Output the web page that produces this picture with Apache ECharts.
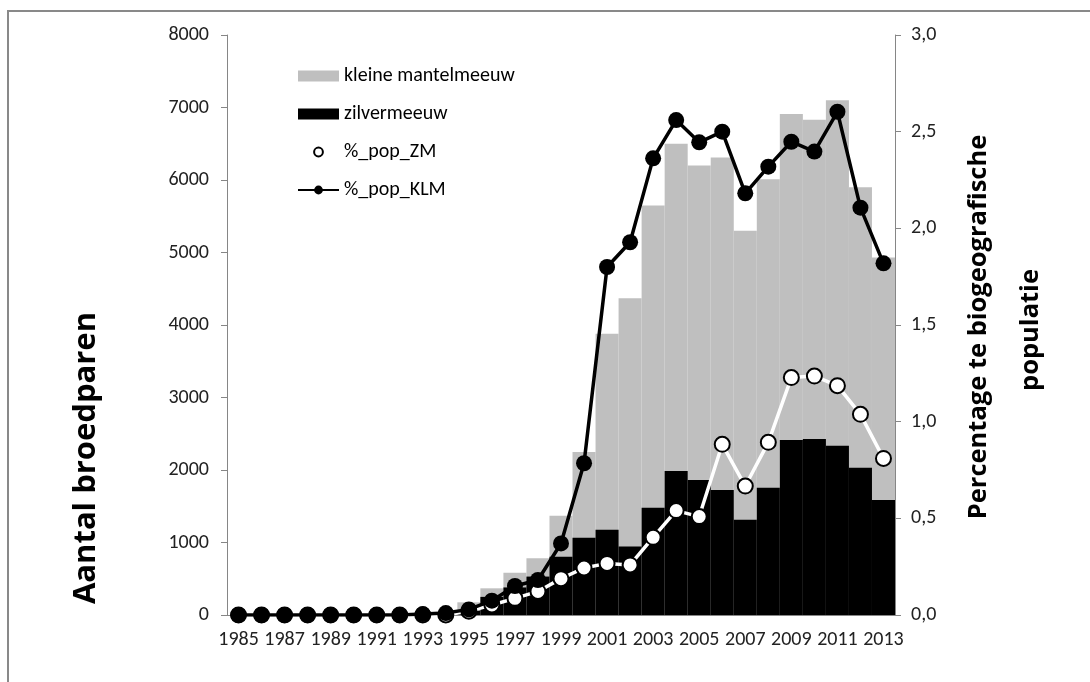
<!DOCTYPE html>
<html lang="nl">

<head>
    <meta charset="UTF-8">
    <title>Broedparen meeuwen</title>
    <style>
        html, body { margin: 0; padding: 0; background: #fff; }
        #chart { width: 1090px; height: 682px; }
    </style>
</head>

<body>
    <div id="chart"></div>
</body>
<script type="text/javascript" src="https://cdn.jsdelivr.net/npm/echarts@6/dist/echarts.min.js"></script>
<script type="text/javascript">
    // jaren
    var years = ['1985', '1986', '1987', '1988', '1989', '1990', '1991', '1992', '1993', '1994',
        '1995', '1996', '1997', '1998', '1999', '2000', '2001', '2002', '2003', '2004',
        '2005', '2006', '2007', '2008', '2009', '2010', '2011', '2012', '2013'];
    // aantal broedparen kleine mantelmeeuw (grijs)
    var kleineMantelmeeuw = [0, 0, 0, 0, 0, 0, 0, 0, 0, 20,
        175, 368, 584, 782, 1370, 2250, 3880, 4370, 5650, 6500,
        6200, 6310, 5300, 6010, 6910, 6830, 7100, 5900, 4930];
    // aantal broedparen zilvermeeuw (zwart)
    var zilvermeeuw = [0, 0, 0, 0, 0, 0, 0, 0, 0, 10,
        60, 250, 380, 530, 805, 1067, 1177, 945, 1480, 1986,
        1862, 1724, 1315, 1756, 2414, 2428, 2336, 2032, 1586];
    // % van biogeografische populatie
    var popZM = [0, 0, 0, 0, 0, 0, 0, 0, 0, 0,
        0.02, 0.052, 0.086, 0.122, 0.188, 0.243, 0.267, 0.259, 0.402, 0.54,
        0.509, 0.883, 0.667, 0.893, 1.228, 1.236, 1.186, 1.038, 0.81];
    var popKLM = [0, 0, 0, 0, 0, 0, 0, 0, 0.005, 0.01,
        0.029, 0.074, 0.15, 0.181, 0.37, 0.785, 1.8, 1.928, 2.362, 2.56,
        2.445, 2.5, 2.181, 2.319, 2.448, 2.397, 2.603, 2.107, 1.819];

    var font = 'Carlito, Lato, sans-serif';
    var titleFont = '"Open Sans", sans-serif';
    var axisGrey = '#868686';

    var option = {
        animation: false,
        textStyle: { fontFamily: font },
        grid: { left: 227, right: 195, top: 35, bottom: 67 },
        graphic: [
            {
                type: 'rect',
                shape: { x: 8, y: 11, width: 1100, height: 700 },
                style: { fill: 'none', stroke: '#898989', lineWidth: 2 },
                silent: true
            },
            {
                type: 'text', x: 86, y: 458, rotation: Math.PI / 2,
                style: {
                    text: 'Aantal broedparen', fontFamily: titleFont, fontWeight: 'bold', fontSize: 31,
                    fill: '#000', textAlign: 'center', textVerticalAlign: 'middle'
                }
            },
            {
                type: 'text', x: 979, y: 327, rotation: Math.PI / 2,
                style: {
                    text: 'Percentage te biogeografische', fontFamily: titleFont, fontWeight: 'bold', fontSize: 25.5,
                    fill: '#000', textAlign: 'center', textVerticalAlign: 'middle'
                }
            },
            {
                type: 'text', x: 1031, y: 330, rotation: Math.PI / 2,
                style: {
                    text: 'populatie', fontFamily: titleFont, fontWeight: 'bold', fontSize: 25.5,
                    fill: '#000', textAlign: 'center', textVerticalAlign: 'middle'
                }
            }
        ],
        legend: {
            orient: 'vertical',
            left: 292,
            top: 61,
            itemWidth: 41,
            itemHeight: 11,
            itemGap: 18,
            textStyle: { fontSize: 20, color: '#000', fontFamily: font },
            data: [
                { name: 'kleine mantelmeeuw', icon: 'rect' },
                { name: 'zilvermeeuw', icon: 'rect' },
                { name: '%_pop_ZM' },
                { name: '%_pop_KLM' }
            ]
        },
        xAxis: {
            type: 'category',
            data: years,
            axisLine: { lineStyle: { color: axisGrey } },
            axisTick: { interval: 0, length: 6, lineStyle: { color: axisGrey } },
            axisLabel: { interval: 1, fontSize: 20, color: '#222', margin: 15 }
        },
        yAxis: [
            {
                type: 'value', min: 0, max: 8000, interval: 1000,
                splitLine: { show: false },
                axisLine: { show: true, lineStyle: { color: axisGrey } },
                axisTick: { show: true, length: 6, lineStyle: { color: axisGrey } },
                axisLabel: {
                    fontSize: 20, color: '#222', margin: 18,
                    formatter: function (v) { return String(v); }
                }
            },
            {
                type: 'value', min: 0, max: 3, interval: 0.5,
                splitLine: { show: false },
                axisLine: { show: true, lineStyle: { color: axisGrey } },
                axisTick: { show: true, length: 6, lineStyle: { color: axisGrey } },
                axisLabel: {
                    fontSize: 20, color: '#222', margin: 16,
                    formatter: function (v) { return v.toFixed(1).replace('.', ','); }
                }
            }
        ],
        series: [
            {
                name: 'kleine mantelmeeuw',
                type: 'bar',
                data: kleineMantelmeeuw,
                barGap: '-100%',
                barCategoryGap: 0,
                itemStyle: { color: '#bfbfbf' },
                z: 1
            },
            {
                name: 'zilvermeeuw',
                type: 'bar',
                data: zilvermeeuw,
                barGap: '-100%',
                barCategoryGap: 0,
                itemStyle: { color: '#000' },
                z: 2
            },
            {
                name: '%_pop_ZM',
                type: 'line',
                yAxisIndex: 1,
                data: popZM,
                symbol: 'circle',
                symbolSize: 15,
                showAllSymbol: true,
                lineStyle: { color: '#fff', width: 3.5 },
                itemStyle: { color: '#fff', borderColor: '#000', borderWidth: 2 },
                z: 3
            },
            {
                name: '%_pop_KLM',
                type: 'line',
                yAxisIndex: 1,
                data: popKLM,
                symbol: 'circle',
                symbolSize: 16,
                showAllSymbol: true,
                lineStyle: { color: '#000', width: 3.5 },
                itemStyle: { color: '#000' },
                z: 4
            }
        ]
    };

    //初始化echarts实例
    var myChart = echarts.init(document.getElementById('chart'));
    myChart.setOption(option);
</script>

</html>
